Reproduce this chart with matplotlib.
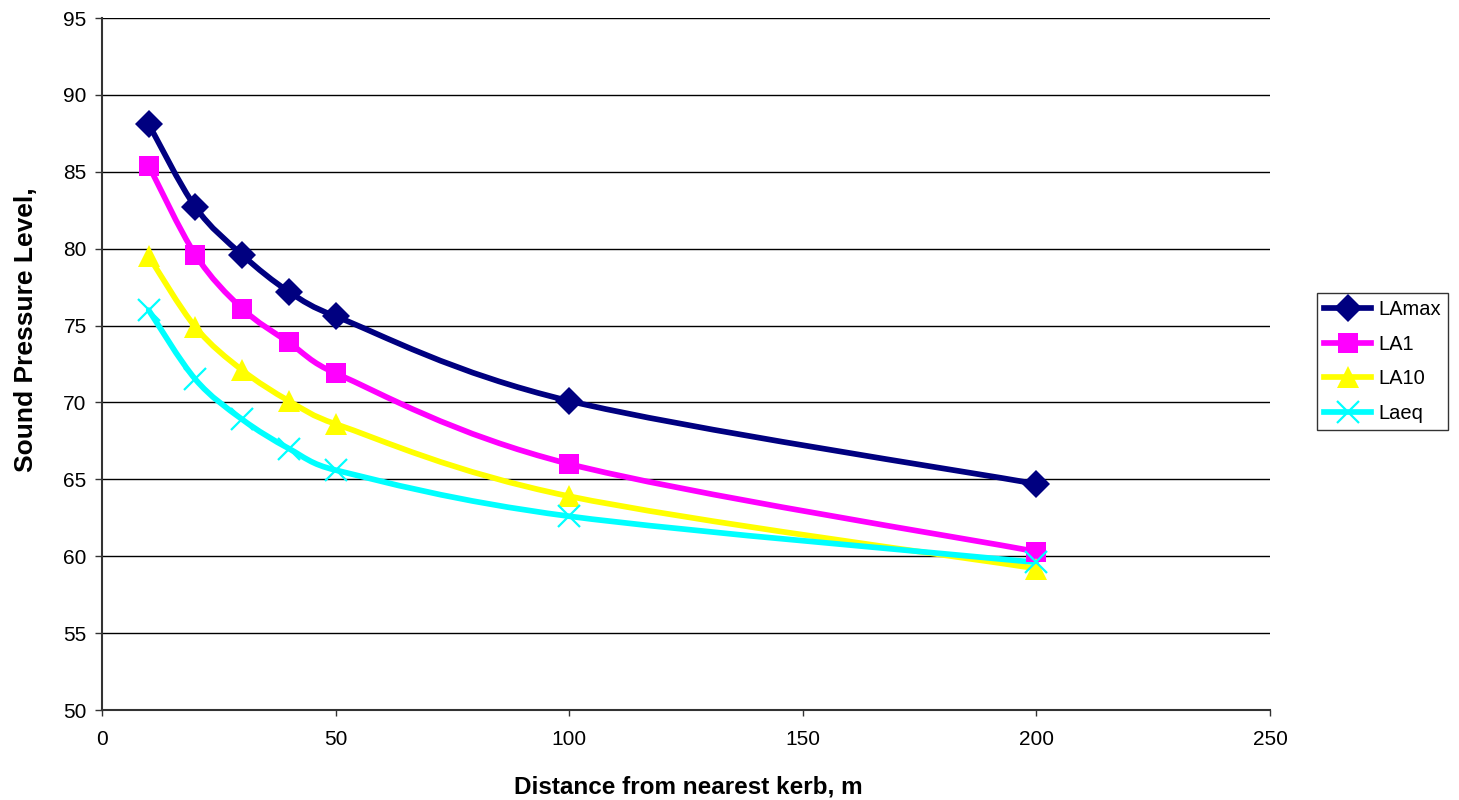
import matplotlib

matplotlib.use("Agg")

import numpy as np
import matplotlib.pyplot as plt
from matplotlib.lines import Line2D
from matplotlib.patches import PathPatch
from matplotlib.path import Path

plt.rcParams["font.family"] = ["Liberation Sans", "DejaVu Sans"]

distance = [10, 20, 30, 40, 50, 100, 200]
lamax = [88.1, 82.7, 79.6, 77.2, 75.6, 70.1, 64.7]
la1 = [85.4, 79.6, 76.1, 73.9, 71.9, 66.0, 60.3]
la10 = [79.5, 74.9, 72.1, 70.1, 68.6, 63.9, 59.2]
laeq = [76.0, 71.5, 68.9, 67.0, 65.6, 62.6, 59.6]

series_names = ["LAmax", "LA1", "LA10", "Laeq"]
series_values = [lamax, la1, la10, laeq]
colors = ["#000080", "#ff00ff", "#ffff00", "#00ffff"]
markers = ["D", "s", "^", "x"]
marker_sizes = [14, 14, 16, 16]

x_ticks = [0, 50, 100, 150, 200, 250]
y_ticks = [50, 55, 60, 65, 70, 75, 80, 85, 90, 95]


def smooth_path(ax, xs, ys):
    # Excel-like smoothed line: Bezier segments, tangents capped at half the segment length
    to_px = ax.transData
    pts = to_px.transform(np.column_stack([xs, ys]))
    n = len(pts)
    verts = [pts[0]]
    codes = [Path.MOVETO]
    for i in range(n - 1):
        p0 = pts[i - 1] if i > 0 else pts[i]
        p1 = pts[i]
        p2 = pts[i + 1]
        p3 = pts[i + 2] if i + 2 < n else pts[i + 1]
        seg = np.hypot(*(p2 - p1))
        v = (p2 - p0) / 6
        w = (p3 - p1) / 6
        if np.hypot(*v) > seg / 2:
            v = v / np.hypot(*v) * seg / 2
        if np.hypot(*w) > seg / 2:
            w = w / np.hypot(*w) * seg / 2
        verts += [p1 + v, p2 - w, p2]
        codes += [Path.CURVE4] * 3
    data_verts = to_px.inverted().transform(np.array(verts))
    return Path(data_verts, codes)


fig = plt.figure(figsize=(14.59, 8), dpi=100)
ax = fig.add_axes([0.0699, 0.1125, 0.8006, 0.865])
ax.set_xlim(0, 250)
ax.set_ylim(50, 95)

handles = []
for name, values, color, marker, size in zip(series_names, series_values, colors, markers, marker_sizes):
    ax.add_patch(PathPatch(smooth_path(ax, distance, values), facecolor="none", edgecolor=color,
                           linewidth=4.1, zorder=3, capstyle="round", joinstyle="round"))
    mew = 1.6 if marker == "x" else 0
    ax.plot(distance, values, linestyle="none", marker=marker, markersize=size,
            markeredgewidth=mew, color=color, zorder=4)
    handles.append(Line2D([], [], color=color, linewidth=4.1, marker=marker, markersize=size,
                          markeredgewidth=mew, label=name))

ax.set_xticks(x_ticks)
ax.set_yticks(y_ticks)
ax.tick_params(axis="both", labelsize=15, direction="out", width=1, color="#333333")
ax.tick_params(axis="x", length=4.5, pad=10)
ax.tick_params(axis="y", length=5, pad=6)
ax.grid(True, axis="y", color="black", linewidth=1)
ax.set_axisbelow(True)
for side in ["top", "right"]:
    ax.spines[side].set_visible(False)
for side in ["left", "bottom"]:
    ax.spines[side].set_color("#333333")
    ax.spines[side].set_linewidth(1.5)

fig.text(688 / 1459, 1 - 787 / 800, "Distance from nearest kerb, m", fontsize=17.5,
         fontweight="bold", ha="center", va="center")
fig.text(26 / 1459, 1 - 330 / 800, "Sound Pressure Level,", fontsize=19,
         fontweight="bold", ha="center", va="center", rotation=90)

legend = fig.legend(handles=handles, loc="upper left", bbox_to_anchor=(1317 / 1459, 1 - 293 / 800),
                    fontsize=14.5, frameon=True, fancybox=False, handlelength=2.35,
                    borderpad=0.35, labelspacing=0.78, handletextpad=0.35, borderaxespad=0)
legend.get_frame().set_edgecolor("black")
legend.get_frame().set_linewidth(1)

fig.savefig("out.png", dpi=100)
